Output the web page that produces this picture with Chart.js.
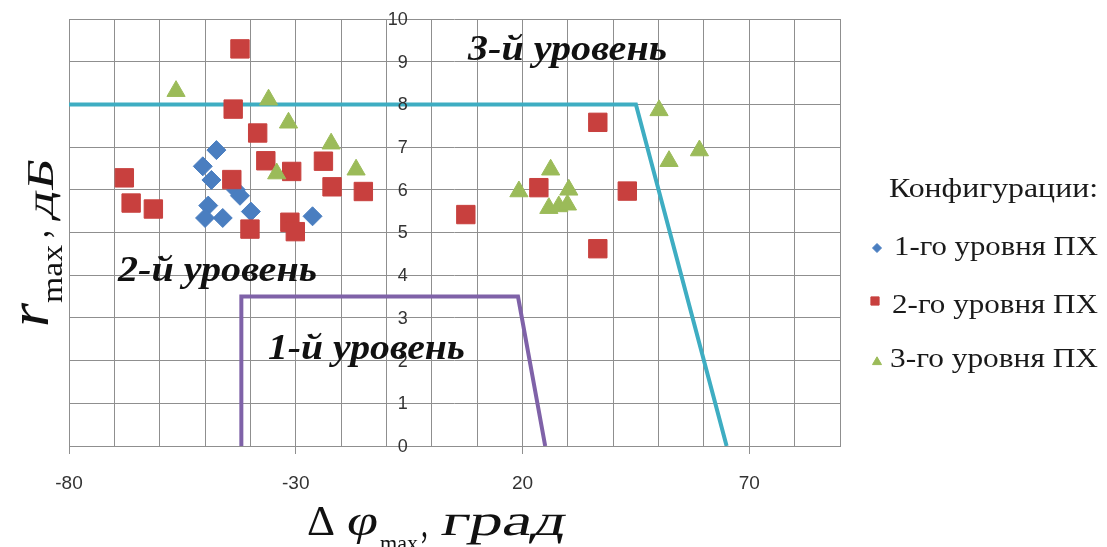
<!DOCTYPE html>
<html>
<head>
<meta charset="utf-8">
<script src="https://cdn.jsdelivr.net/npm/chart.js@4/dist/chart.umd.min.js"></script>
<style>
  html, body { margin: 0; padding: 0; background: #ffffff; }
  #wrap { width: 1107px; height: 547px; position: relative; }
</style>
</head>
<body>
<div id="wrap"><canvas id="c" width="1107" height="547"></canvas></div>
<script>
// ---- data ----
const seriesNames = ['1-го уровня ПХ', '2-го уровня ПХ', '3-го уровня ПХ'];
const legendTitle = 'Конфигурации:';

const level1X = [-47.5, -50.5, -48.6, -43.2, -42.3, -49.3, -50.0, -46.1, -39.9, -26.3];
const level1Y = [6.93, 6.55, 6.23, 6.00, 5.86, 5.63, 5.34, 5.34, 5.49, 5.38];

const level2X = [-42.3, -43.8, -38.4, -36.6, -30.9, -23.9, -22.0, -15.1, -44.1, -67.8,
                 -66.3, -61.4, -40.1, -31.3, -30.1, 7.5, 23.6, 36.6, 43.1, 36.6];
const level2Y = [9.30, 7.89, 7.33, 6.68, 6.43, 6.67, 6.07, 5.96, 6.24, 6.28,
                 5.69, 5.55, 5.08, 5.24, 5.02, 5.42, 6.05, 7.58, 5.97, 4.62];

const level3X = [-56.4, -36.0, -31.6, -22.2, -34.2, -16.7, 50.1, 59.0, 52.3, 26.2,
                 19.2, 30.2, 25.8, 28.0, 29.9];
const level3Y = [8.31, 8.11, 7.57, 7.08, 6.38, 6.47, 7.86, 6.92, 6.67, 6.47,
                 5.96, 6.00, 5.57, 5.61, 5.65];

// boundary of level 3 (cyan) and level 1 (purple)
const bound3X = [-80, 45, 65];
const bound3Y = [8, 8, 0];
const bound1X = [-42, -42, 19, 25];
const bound1Y = [0, 3.5, 3.5, 0];

const xTickLabels = [-80, -30, 20, 70];
const yTickLabels = [0, 1, 2, 3, 4, 5, 6, 7, 8, 9, 10];
const regionLabels = ['3-й уровень', '2-й уровень', '1-й уровень'];

const zip = (xs, ys) => xs.map((x, i) => ({ x: x, y: ys[i] }));

const COL1 = '#4a7ec0';
const COL2 = '#c8403e';
const COL3 = '#9bbb59';
const CYAN = '#3eadc2';
const PURPLE = '#7f62a8';
const GRID = '#8f8f8f';
const SERIF = '"Liberation Serif", "Times New Roman", serif';
const SANS = '"Liberation Sans", Arial, sans-serif';

function fitText(ctx, str, x, y, w, font, color, skew) {
  ctx.save();
  ctx.font = font;
  ctx.fillStyle = color || '#111';
  ctx.textAlign = 'left';
  ctx.textBaseline = 'alphabetic';
  const m = ctx.measureText(str).width;
  ctx.translate(x, y);
  if (skew) ctx.transform(1, 0, -skew, 1, 0, 0);
  ctx.scale(w / m, 1);
  ctx.fillText(str, 0, 0);
  ctx.restore();
}

const textPlugin = {
  id: 'texts',
  afterDatasetsDraw(chart) {
    const ctx = chart.ctx;
    // y tick labels next to the y axis crossing at x = 0
    const ys = chart.scales.y, xs = chart.scales.x;
    const ax = xs.getPixelForValue(0);
    ctx.save();
    ctx.font = '18px ' + SANS;
    ctx.fillStyle = '#333';
    ctx.textAlign = 'right';
    ctx.textBaseline = 'middle';
    ys.ticks.forEach((t) => {
      if (yTickLabels.includes(t.value)) ctx.fillText(String(t.value), ax - 24, ys.getPixelForValue(t.value) + 1);
    });
    ctx.restore();

    // region labels
    const bi = 'italic bold 36px ' + SERIF;
    fitText(ctx, regionLabels[0], 468, 60, 199, bi);
    fitText(ctx, regionLabels[1], 118, 281, 199, bi);
    fitText(ctx, regionLabels[2], 268, 359, 197, bi);
  },
  afterDraw(chart) {
    const ctx = chart.ctx;
    // x axis title
    fitText(ctx, 'Δ', 307, 535, 28, '43px ' + SERIF);
    fitText(ctx, 'φ', 347, 535, 31, 'italic 44px ' + SERIF);
    fitText(ctx, 'max', 380, 551, 38, '24px ' + SERIF);
    fitText(ctx, ',', 421, 537, 7, '44px ' + SERIF);
    fitText(ctx, 'град', 440, 535, 124, '44px ' + SERIF, '#111', 0.22);

    // y axis title (rotated)
    ctx.save();
    ctx.rotate(-Math.PI / 2);
    // local (lx, ly) -> screen (ly, -lx)
    fitText(ctx, 'r', -327, 48, 24, 'italic 56px ' + SERIF);
    fitText(ctx, 'max', -303, 62, 58, '30px ' + SERIF);
    fitText(ctx, ',', -238, 48, 8, '40px ' + SERIF);
    fitText(ctx, 'дБ', -220, 53, 60, '38px ' + SERIF, '#111', 0.2);
    ctx.restore();

    // legend
    fitText(ctx, legendTitle, 889, 197, 209, '28px ' + SERIF, '#1a1a1a');
    const items = [
      { y: 255, my: 248, mx: 877, style: 'rectRot', r: 4.5, c: COL1, x: 894, w: 204 },
      { y: 313, my: 301, mx: 875, style: 'rect', r: 5.8, c: COL2, x: 892, w: 206 },
      { y: 367, my: 362, mx: 877, style: 'triangle', r: 5.2, c: COL3, x: 890, w: 208 }
    ];
    items.forEach((it, i) => {
      ctx.save();
      ctx.fillStyle = it.c;
      ctx.strokeStyle = it.c;
      ctx.lineWidth = 1;
      Chart.helpers.drawPoint(ctx, { pointStyle: it.style, radius: it.r, borderWidth: 1, rotation: 0 }, it.mx, it.my);
      ctx.restore();
      fitText(ctx, seriesNames[i], it.x, it.y, it.w, '27px ' + SERIF, '#1a1a1a');
    });
  }
};

const ctxEl = document.getElementById('c');
new Chart(ctxEl, {
  type: 'scatter',
  data: {
    datasets: [
      { label: seriesNames[2], data: zip(level3X, level3Y), pointStyle: 'triangle', pointRadius: 10.5,
        backgroundColor: COL3, borderColor: COL3, borderWidth: 1, order: 1 },
      { label: seriesNames[1], data: zip(level2X, level2Y), pointStyle: 'rect', pointRadius: 13,
        backgroundColor: COL2, borderColor: COL2, borderWidth: 1, order: 2 },
      { label: seriesNames[0], data: zip(level1X, level1Y), pointStyle: 'rectRot', pointRadius: 9.5,
        backgroundColor: COL1, borderColor: COL1, borderWidth: 1, order: 3 },
      { label: 'bound3', type: 'line', data: zip(bound3X, bound3Y), showLine: true, pointRadius: 0,
        borderColor: CYAN, borderWidth: 4, fill: false, tension: 0, order: 4 },
      { label: 'bound1', type: 'line', data: zip(bound1X, bound1Y), showLine: true, pointRadius: 0,
        borderColor: PURPLE, borderWidth: 4, fill: false, tension: 0, order: 5 }
    ]
  },
  options: {
    responsive: false,
    animation: false,
    devicePixelRatio: 1,
    layout: { padding: { left: 69, right: 267, top: 19, bottom: 0 } },
    plugins: { legend: { display: false }, tooltip: { enabled: false } },
    scales: {
      x: {
        type: 'linear', position: 'bottom', min: -80, max: 90,
        afterFit: (s) => { s.height = 101; },
        grid: {
          color: GRID, lineWidth: 1, drawTicks: true, tickLength: 8,
          tickColor: (c) => (c.tick && xTickLabels.includes(c.tick.value)) ? GRID : 'rgba(0,0,0,0)'
        },
        border: { color: GRID, width: 1 },
        ticks: {
          stepSize: 10, autoSkip: false, maxRotation: 0, padding: 18,
          color: '#333', font: { family: SANS, size: 19 },
          callback: (v) => xTickLabels.includes(v) ? String(v) : ''
        }
      },
      y: {
        type: 'linear', position: { x: 0 }, min: 0, max: 10,
        grid: { color: GRID, lineWidth: 1, drawTicks: false },
        border: { color: GRID, width: 1 },
        ticks: { stepSize: 1, display: false }
      }
    }
  },
  plugins: [textPlugin]
});
</script>
</body>
</html>
